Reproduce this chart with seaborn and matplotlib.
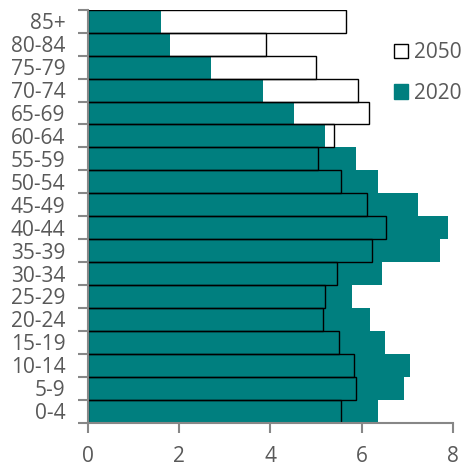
import matplotlib
matplotlib.use("Agg")
import matplotlib.pyplot as plt
from matplotlib.patches import Patch
import seaborn as sns
import pandas as pd

# Age groups, listed top to bottom
age_groups = ["85+", "80-84", "75-79", "70-74", "65-69", "60-64", "55-59", "50-54",
              "45-49", "40-44", "35-39", "30-34", "25-29", "20-24", "15-19",
              "10-14", "5-9", "0-4"]
# Share of population (%) per age group
share_2020 = [1.60, 1.80, 2.70, 3.85, 4.52, 5.21, 5.88, 6.37, 7.23, 7.89, 7.73,
              6.45, 5.80, 6.18, 6.51, 7.06, 6.94, 6.37]
share_2050 = [5.65, 3.90, 5.00, 5.93, 6.17, 5.39, 5.04, 5.55, 6.13, 6.54, 6.22,
              5.47, 5.20, 5.16, 5.50, 5.84, 5.87, 5.56]
x_ticks = [0, 2, 4, 6, 8]

TEAL = "#007F7F"
GREY_TEXT = "#595959"
GREY_AXIS = "#878787"

sns.set_style("white")
plt.rcParams["font.family"] = ["Open Sans", "DejaVu Sans"]

df = pd.DataFrame({"age": age_groups, "y2020": share_2020, "y2050": share_2050})

fig = plt.figure(figsize=(4.62, 4.68), dpi=100)
ax = fig.add_axes([0.19, 0.097, 0.79, 0.882])

sns.barplot(data=df, x="y2020", y="age", order=age_groups, color=TEAL,
            saturation=1, width=1.0, linewidth=0, ax=ax)
sns.barplot(data=df, x="y2050", y="age", order=age_groups, fill=False,
            color="black", width=1.0, linewidth=1.0, ax=ax)

ax.set_xlim(0, 8)
ax.set_ylim(len(age_groups) - 0.5, -0.5)
ax.set_xlabel("")
ax.set_ylabel("")

# x axis
ax.set_xticks(x_ticks)
ax.set_xticklabels([str(t) for t in x_ticks])
ax.tick_params(axis="x", length=7, width=1.5, color=GREY_AXIS, pad=10,
               labelsize=15, labelcolor=GREY_TEXT, bottom=True)

# y axis: labels at category centres, tick marks between categories
ax.set_yticks([i - 0.5 for i in range(len(age_groups) + 1)])
ax.set_yticklabels([])
ax.tick_params(axis="y", which="major", length=7, width=1.5, color=GREY_AXIS, left=True)
ax.set_yticks(range(len(age_groups)), minor=True)
ax.set_yticklabels(age_groups, minor=True)
ax.tick_params(axis="y", which="minor", length=0, pad=16, labelsize=15,
               labelcolor=GREY_TEXT)

for side in ["top", "right"]:
    ax.spines[side].set_visible(False)
for side in ["left", "bottom"]:
    ax.spines[side].set_color(GREY_AXIS)
    ax.spines[side].set_linewidth(1.5)

handles = [Patch(facecolor="white", edgecolor="black", linewidth=1.0, label="2050"),
           Patch(facecolor=TEAL, edgecolor=TEAL, label="2020")]
ax.legend(handles=handles, loc="upper left", bbox_to_anchor=(0.852, 0.91),
          bbox_transform=fig.transFigure, frameon=False, fontsize=15,
          labelcolor=GREY_TEXT, handlelength=0.68, handleheight=0.68,
          handletextpad=0.3, labelspacing=0.95, borderpad=0, borderaxespad=0)

fig.savefig("out.png", dpi=100)
